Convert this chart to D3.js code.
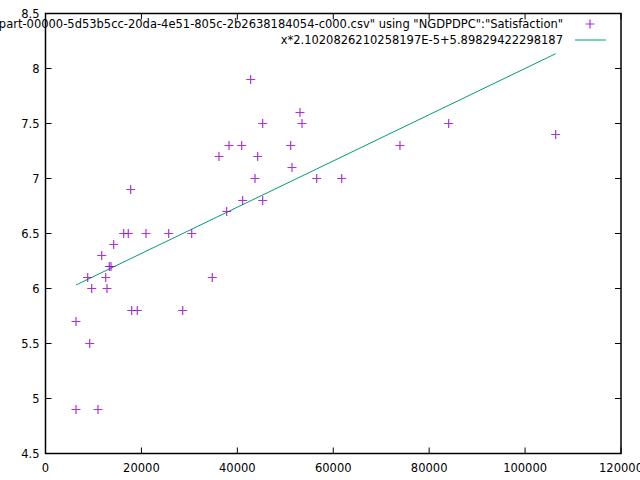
<!DOCTYPE html>
<html>
<head>
<meta charset="utf-8">
<script src="https://cdn.jsdelivr.net/npm/d3@7"></script>
<style>
  body { margin: 0; background: #fff; }
  text { font-family: "DejaVu Sans", sans-serif; font-size: 11.5px; fill: #000; }
</style>
</head>
<body>
<script>
const width = 640;
const height = 480;

// NGDPDPC vs Satisfaction
const gdp = [6359, 6359, 9216, 10946, 8799, 9633, 11718, 12552, 12823, 13300,
    13657, 14220, 16305, 17264, 17764, 17973, 19140, 20954, 25687, 28606,
    30483, 34778, 36175, 37780, 38260, 40908, 41116, 42784, 43681, 44244,
    45286, 45286, 51124, 51395, 53063, 53480, 56545, 61758, 73913, 84067, 106377];
const satisfaction = [4.9, 5.7, 5.5, 4.9, 6.1, 6.0, 6.3, 6.1, 6.0, 6.2,
    6.2, 6.4, 6.5, 6.5, 6.9, 5.8, 5.8, 6.5, 6.5, 5.8,
    6.5, 6.1, 7.2, 6.7, 7.3, 7.3, 6.8, 7.9, 7.0, 7.2,
    7.5, 6.8, 7.3, 7.1, 7.6, 7.5, 7.0, 7.0, 7.3, 7.5, 7.4];

const slope = 2.1020826210258197E-5;
const intercept = 5.89829422298187;

const xTicks = [0, 20000, 40000, 60000, 80000, 100000, 120000];
const yTicks = [4.5, 5, 5.5, 6, 6.5, 7, 7.5, 8, 8.5];

const dataTitle = '"part-00000-5d53b5cc-20da-4e51-805c-2b2638184054-c000.csv" using "NGDPDPC":"Satisfaction"';
const fitTitle = 'x*2.1020826210258197E-5+5.89829422298187';

const pl = 45.5, pr = 621, pt = 13.5, pb = 453.5;

const x = d3.scaleLinear().domain([0, 120000]).range([pl, pr]);
const y = d3.scaleLinear().domain([4.5, 8.5]).range([pb, pt]);

const svg = d3.select("body").append("svg")
    .attr("width", width)
    .attr("height", height);

// ticks (inward, mirrored)
const tickLen = 6;
svg.append("g").selectAll("path")
    .data(xTicks)
    .enter()
    .append("path")
    .attr("d", d => `M${x(d)},${pb}v${-tickLen}M${x(d)},${pt}v${tickLen}`)
    .attr("stroke", "#000")
    .attr("stroke-width", 1);

svg.append("g").selectAll("path")
    .data(yTicks)
    .enter()
    .append("path")
    .attr("d", d => `M${pl},${y(d)}h${tickLen}M${pr},${y(d)}h${-tickLen}`)
    .attr("stroke", "#000")
    .attr("stroke-width", 1);

svg.append("g").selectAll("text")
    .data(xTicks)
    .enter()
    .append("text")
    .attr("x", d => x(d))
    .attr("y", pb + 18)
    .attr("text-anchor", "middle")
    .text(d => d);

svg.append("g").selectAll("text")
    .data(yTicks)
    .enter()
    .append("text")
    .attr("x", pl - 6)
    .attr("y", d => y(d) + 4)
    .attr("text-anchor", "end")
    .text(d => d);

// fitted line over data range
const [xmin, xmax] = d3.extent(gdp);
svg.append("path")
    .datum([xmin, xmax])
    .attr("d", d3.line().x(d => x(d)).y(d => y(slope * d + intercept)))
    .attr("stroke", "#009e73")
    .attr("stroke-width", 1)
    .attr("fill", "none");

// points
const plus = (cx, cy, r) => `M${cx - r},${cy}h${2 * r}M${cx},${cy - r}v${2 * r}`;
svg.append("g").selectAll("path")
    .data(gdp.map((g, i) => [g, satisfaction[i]]))
    .enter()
    .append("path")
    .attr("d", d => plus(x(d[0]), y(d[1]), 4.5))
    .attr("stroke", "#9400d3")
    .attr("stroke-width", 1.2)
    .attr("stroke-opacity", 0.8);

// border
svg.append("rect")
    .attr("x", pl)
    .attr("y", pt)
    .attr("width", pr - pl)
    .attr("height", pb - pt)
    .attr("fill", "none")
    .attr("stroke", "#000")
    .attr("stroke-width", 1.5);

// key
svg.append("text")
    .attr("x", 563)
    .attr("y", 28)
    .attr("text-anchor", "end")
    .text(dataTitle);
svg.append("path")
    .attr("d", plus(590, 24, 4.5))
    .attr("stroke", "#9400d3")
    .attr("stroke-width", 1.2)
    .attr("stroke-opacity", 0.8);
svg.append("text")
    .attr("x", 563)
    .attr("y", 44)
    .attr("text-anchor", "end")
    .text(fitTitle);
svg.append("path")
    .attr("d", "M575,40H606")
    .attr("stroke", "#009e73")
    .attr("stroke-width", 1);
</script>
</body>
</html>
